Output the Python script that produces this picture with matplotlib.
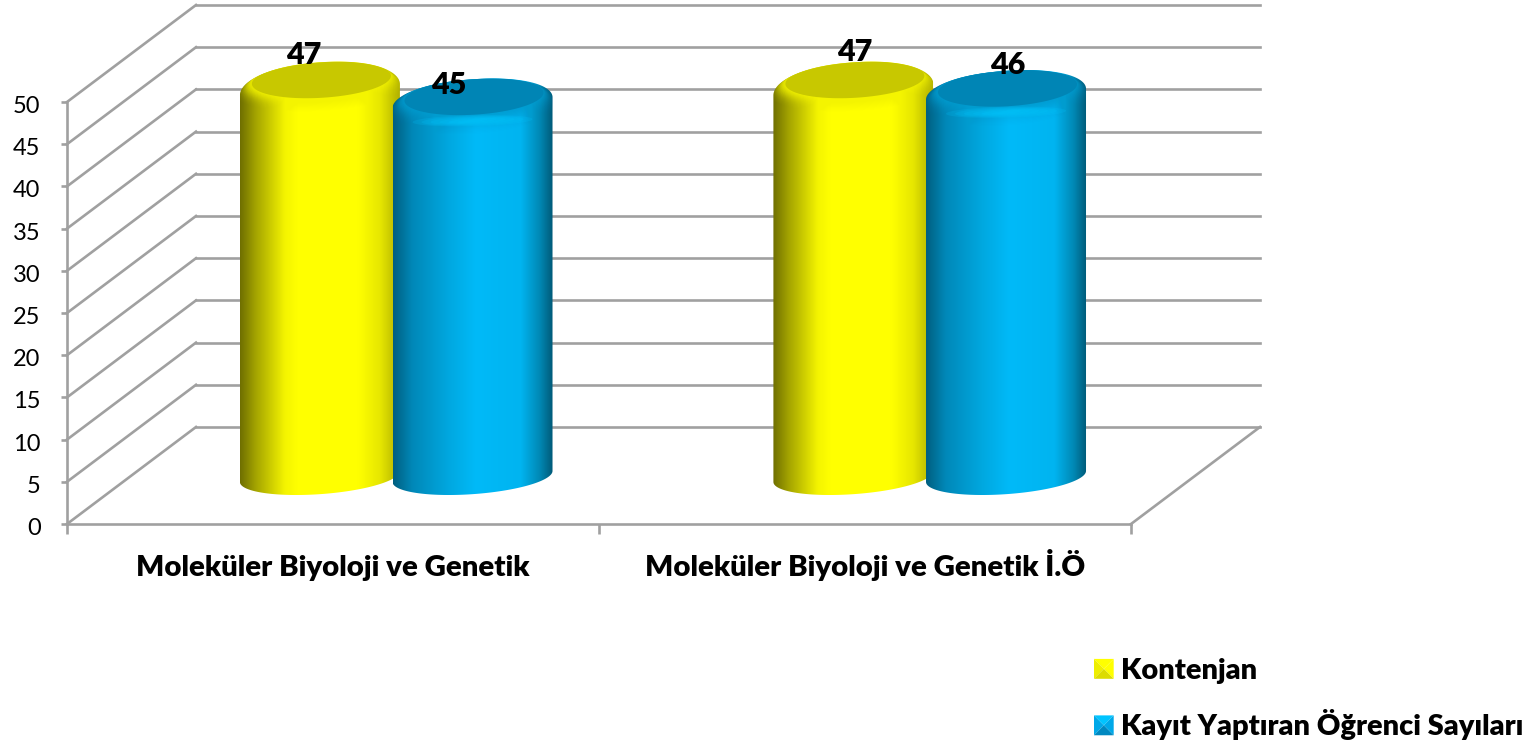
import numpy as np
import matplotlib
matplotlib.use("Agg")
import matplotlib.pyplot as plt
from matplotlib.colors import LinearSegmentedColormap
from matplotlib.legend_handler import HandlerBase
from matplotlib.patches import Patch, Polygon
from matplotlib.transforms import ScaledTranslation

categories = ["Moleküler Biyoloji ve Genetik", "Moleküler Biyoloji ve Genetik İ.Ö"]
series_names = ["Kontenjan", "Kayıt Yaptıran Öğrenci Sayıları"]
kontenjan = [47, 47]
kayit = [45, 46]
y_ticks = [0, 5, 10, 15, 20, 25, 30, 35, 40, 45, 50]

W, H = 1529, 744
# data units per pixel, front plane: x 67..1131 = 0..2, y 524..102 = 0..50
PX = 2 / 1064
PY = 50 / 422
GRID = "#a0a0a0"
LW = 1.9
HEAVY = 800

fig = plt.figure(figsize=(W / 100, H / 100), dpi=100, facecolor="white")
ax = fig.add_axes([67 / W, (H - 524) / H, 1064 / W, 422 / H])
ax.set_xlim(0, 2)
ax.set_ylim(0, 50)
ax.patch.set_alpha(0)

# 3d walls
dx, dy = 129 * PX, 97 * PY
for v in y_ticks:
    ax.plot([0, dx], [v, v + dy], color=GRID, lw=LW, clip_on=False, zorder=1)
    ax.plot([dx, 2 + dx], [v + dy, v + dy], color=GRID, lw=LW, clip_on=False, zorder=1)
ax.plot([2, 2 + dx], [0, dy], color=GRID, lw=LW, clip_on=False, zorder=1)

for side in ["top", "right"]:
    ax.spines[side].set_visible(False)
for side in ["left", "bottom"]:
    ax.spines[side].set_color(GRID)
    ax.spines[side].set_linewidth(LW)
ax.set_yticks(y_ticks)
ax.set_xticks([0, 1, 2])
ax.set_xticklabels([])
ax.set_xticks([0.5, 1.5], minor=True)
ax.set_xticklabels(categories, minor=True, family="Lato", fontweight=HEAVY, fontsize=21.2, va="baseline")
ax.tick_params(axis="x", which="minor", length=0, pad=37.2)
ax.tick_params(axis="x", which="major", length=7, width=LW, color=GRID)
ax.tick_params(axis="y", length=4, width=LW, color=GRID, pad=15)
for t in ax.get_yticklabels():
    t.set_family("Lato")
    t.set_fontsize(17)
    t.set_transform(t.get_transform() + ScaledTranslation(0, -2.5 / 100, fig.dpi_scale_trans))

yellow_cm = LinearSegmentedColormap.from_list("y", [
    (0, "#6f6f00"), (0.1, "#a5a500"), (0.28, "#f4f400"), (0.36, "#ffff00"),
    (0.74, "#ffff00"), (0.88, "#e6e600"), (1, "#b0b000")])
blue_cm = LinearSegmentedColormap.from_list("b", [
    (0, "#005f80"), (0.12, "#0088b8"), (0.35, "#00a8e0"), (0.52, "#00baf8"),
    (0.8, "#00b4f0"), (0.92, "#0088b4"), (1, "#005a78")])
styles = [
    dict(cm=yellow_cm, disc="#c8c800", shoulder=10, rim=28, ring="#f4f400", ring_b=21, glow=None, order=3),
    dict(cm=blue_cm, disc="#0085b5", shoulder=6, rim=24, ring="#009ccf", ring_b=27, glow="#00c8ff", order=4),
]

# floor depth of the bars, half width and tilt in pixels
depth = 0.49
base = depth * dy
half_w, tilt, low_b = 80, 5.5, 17.7


def ell(xc, yc, a, b, s, t):
    return xc + a * np.cos(t) * PX, yc + (s * np.cos(t) + b * np.sin(t)) * PY


def cylinder(xc, v, st):
    top_y = base + v
    cy = top_y - st["shoulder"] * PY
    b_up = np.sqrt(st["rim"] ** 2 - tilt ** 2)
    tu = np.linspace(0, np.pi, 90)
    td = np.linspace(np.pi, 2 * np.pi, 90)
    # slightly squarer arc on top so the shoulders come out round
    cu = np.sign(np.cos(tu)) * np.abs(np.cos(tu)) ** 0.92
    su = np.sin(tu)
    xu = xc + half_w * cu * PX
    yu = cy + (tilt * cu + b_up * su) * PY
    xd, yd = ell(xc, base, half_w, low_b, tilt, td)
    outline = Polygon(np.column_stack([np.r_[xu, xd], np.r_[yu, yd]]), closed=True,
                      fc="none", ec="none", transform=ax.transData, zorder=st["order"])
    ax.add_patch(outline)
    x0, x1 = xc - half_w * PX, xc + half_w * PX
    im = ax.imshow(np.linspace(0, 1, 256)[None, :], cmap=st["cm"], aspect="auto",
                   extent=[x0, x1, base - 25 * PY, top_y + 25 * PY], zorder=st["order"])
    im.set_clip_box(fig.bbox)
    im.set_clip_path(outline)

    t = np.linspace(0, 2 * np.pi, 180)
    # rounded edge of the cap, outer ring towards the disc
    n = 16
    for i in range(n):
        f = i / (n - 1)
        ex, ey = ell(xc, top_y - (10 - 10 * f) * PY, 84 - 14 * f, st["ring_b"] - (st["ring_b"] - 18) * f, 4.5, t)
        p, = ax.fill(ex, ey, color=st["ring"], alpha=0.02 + 0.25 * f ** 2, lw=0, zorder=st["order"] + 0.1)
        p.set_clip_box(fig.bbox)
        p.set_clip_path(outline)
    if st["glow"]:
        for r in range(6):
            ex, ey = ell(xc, top_y - 24 * PY, 60 - 9 * r, 5.5 - 0.8 * r, 1.5, t)
            p, = ax.fill(ex, ey, color=st["glow"], alpha=0.18, lw=0, zorder=st["order"] + 0.2)
    ex, ey = ell(xc + 1.5 * PX, top_y, 69.5, 18, 4, t)
    p, = ax.fill(ex, ey, color=st["disc"], lw=0, zorder=st["order"] + 0.3)
    p.set_clip_box(fig.bbox)
    p.set_clip_path(outline)


centers = [0.5 + depth * dx, 1.5 + (depth * 129 + 1.5) * PX]
for i in range(2):
    cylinder(centers[i] - 76.3 * PX, kontenjan[i], styles[0])
    cylinder(centers[i] + 76.3 * PX, kayit[i], styles[1])

# data labels, nudged as they sit in the original
label_kw = dict(family="Lato", fontweight=HEAVY, fontsize=22, ha="center", va="center",
                clip_on=False, zorder=10)
offs_k = [(-16, 25), (1, 28)]
offs_b = [(-24, 12), (2, 23)]
for i in range(2):
    for val, off, sgn in [(kontenjan[i], offs_k[i], -1), (kayit[i], offs_b[i], 1)]:
        ax.text(centers[i] + (sgn * 76.3 + off[0]) * PX, base + val + off[1] * PY, str(val), **label_kw)


class Pyramid(HandlerBase):
    def __init__(self, cols):
        super().__init__()
        self.cols = cols

    def create_artists(self, legend, orig, xd, yd, w, h, fontsize, trans):
        x0, y0 = -xd, -yd
        c = (x0 + w / 2, y0 + h / 2)
        a, b, d, e = (x0, y0), (x0 + w, y0), (x0 + w, y0 + h), (x0, y0 + h)
        tris = [[e, d, c], [a, e, c], [b, d, c], [a, b, c]]
        return [Polygon(tr, closed=True, fc=col, ec="none", transform=trans)
                for tr, col in zip(tris, self.cols)]


h1 = Patch(label=series_names[0])
h2 = Patch(label=series_names[1])
fig.legend(handles=[h1, h2], loc="upper left", bbox_to_anchor=(1094 / W, 1 - 658 / H),
           frameon=False, borderpad=0, borderaxespad=0, handlelength=0.68, handleheight=0.68,
           handletextpad=0.24, labelspacing=0.88, prop=dict(family="Lato", weight=HEAVY, size=20.85),
           handler_map={h1: Pyramid(["#ffff00", "#eeee00", "#ffff00", "#dcdc00"]),
                        h2: Pyramid(["#00c4ff", "#00a8e8", "#00a8e8", "#0088c0"])})

fig.savefig("out.png", dpi=100)
